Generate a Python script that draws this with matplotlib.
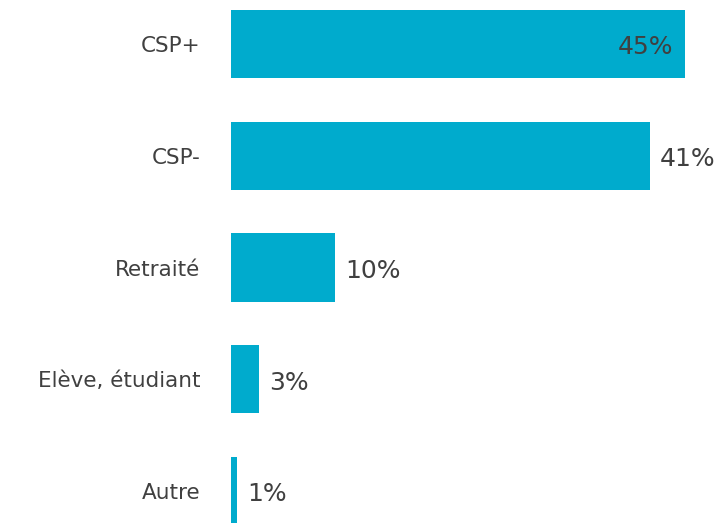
import matplotlib.pyplot as plt

categories = ['CSP+', 'CSP-', 'Retraité', 'Elève, étudiant', 'Autre']
values = [45.0, 41.5, 10.3, 2.8, 0.6]
value_labels = ['45%', '41%', '10%', '3%', '1%']

bar_color = '#00ABCD'
text_color = '#404040'

fig = plt.figure(figsize=(7.17, 5.23), dpi=100)
ax = fig.add_axes([231 / 717, 0, 1 - 231 / 717, 1])

pos = list(range(len(categories)))
ax.barh(pos, values, height=0.61, color=bar_color)

ax.set_xlim(0, (717 - 231) / 10.09)
ax.set_ylim(4.286, -0.394)

ax.set_yticks(pos)
ax.set_yticklabels(categories, fontsize=15.5, color=text_color)
ax.tick_params(axis='y', length=0, pad=22)
ax.set_xticks([])
for s in ax.spines.values():
    s.set_visible(False)

for i, (v, lab) in enumerate(zip(values, value_labels)):
    if v > 43:
        ax.text(v - 1.2, i + 0.03, lab, ha='right', va='center', fontsize=18, color=text_color)
    else:
        ax.text(v + 1.0, i + 0.03, lab, ha='left', va='center', fontsize=18, color=text_color)

plt.savefig('out.png', dpi=100)
plt.close(fig)
